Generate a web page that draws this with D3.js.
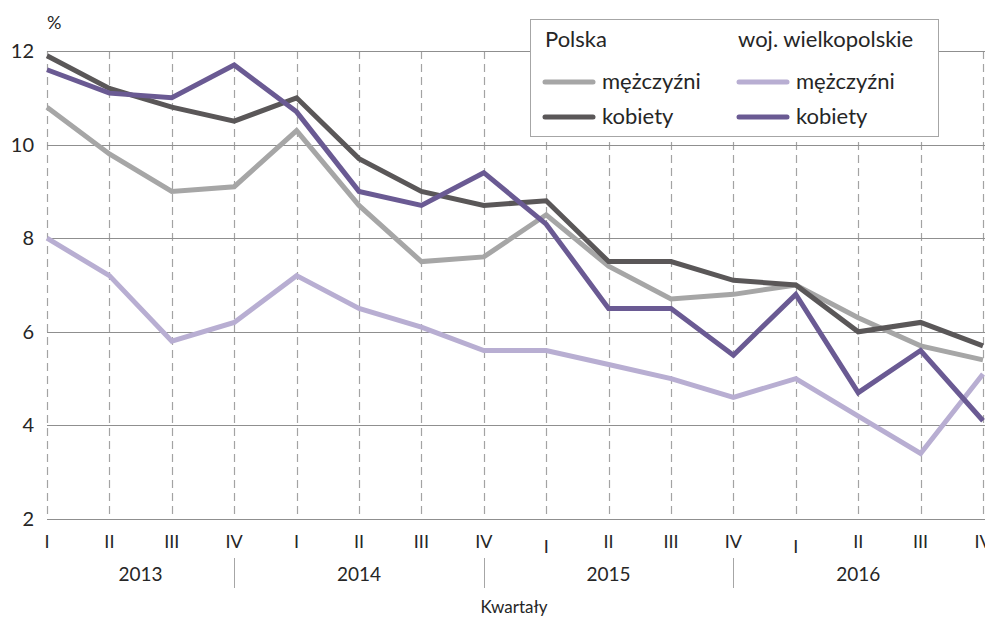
<!DOCTYPE html>
<html>
<head>
<meta charset="utf-8">
<script src="https://cdn.jsdelivr.net/npm/d3@7"></script>
<style>
  body { margin: 0; background: #fff; }
  svg { display: block; font-family: Lato, "Open Sans", sans-serif; }
</style>
</head>
<body>
<div id="chart"></div>
<script>
// quarters 2013 I .. 2016 IV
var QUARTERS = ["I","II","III","IV","I","II","III","IV","I","II","III","IV","I","II","III","IV"];
var YEARS = ["2013", "2014", "2015", "2016"];
var Y_TICKS = [2, 4, 6, 8, 10, 12];

var PL_M = [10.8, 9.8, 9.0, 9.1, 10.3, 8.7, 7.5, 7.6, 8.5, 7.4, 6.7, 6.8, 7.0, 6.3, 5.7, 5.4];
var PL_K = [11.9, 11.2, 10.8, 10.5, 11.0, 9.7, 9.0, 8.7, 8.8, 7.5, 7.5, 7.1, 7.0, 6.0, 6.2, 5.7];
var WLKP_M = [8.0, 7.2, 5.8, 6.2, 7.2, 6.5, 6.1, 5.6, 5.6, 5.3, 5.0, 4.6, 5.0, 4.2, 3.4, 5.1];
var WLKP_K = [11.6, 11.1, 11.0, 11.7, 10.7, 9.0, 8.7, 9.4, 8.3, 6.5, 6.5, 5.5, 6.8, 4.7, 5.6, 4.1];

var series = [
  {name: "mężczyźni", values: PL_M, color: "#a6a6a6"},
  {name: "kobiety", values: PL_K, color: "#5a5758"},
  {name: "mężczyźni", values: WLKP_M, color: "#b8aed2"},
  {name: "kobiety", values: WLKP_K, color: "#6a5a93"}
];

var W = 985, H = 617;
var margin = {left: 47, right: 983, top: 51, bottom: 519};

var svg = d3.select("#chart").append("svg")
    .attr("width", W).attr("height", H);

var x = d3.scaleLinear().domain([0, QUARTERS.length - 1]).range([margin.left, margin.right]);
var y = d3.scaleLinear().domain([2, 12]).range([margin.bottom, margin.top]);

// vertical dashed lines
svg.append("g").selectAll("line")
  .data(QUARTERS)
  .enter().append("line")
  .attr("x1", function(d, i) { return Math.round(x(i)) + 0.5; })
  .attr("x2", function(d, i) { return Math.round(x(i)) + 0.5; })
  .attr("y1", margin.top).attr("y2", margin.bottom)
  .attr("stroke", "#a3a3a3")
  .attr("stroke-width", 1.2)
  .attr("stroke-dasharray", "8,5");

// horizontal grid
svg.append("g").selectAll("line")
  .data(Y_TICKS)
  .enter().append("line")
  .attr("x1", margin.left).attr("x2", W)
  .attr("y1", function(d) { return Math.round(y(d)) + 0.5; })
  .attr("y2", function(d) { return Math.round(y(d)) + 0.5; })
  .attr("stroke", "#8f8f8f")
  .attr("stroke-width", 1.2);

// y labels
svg.append("g").selectAll("text")
  .data(Y_TICKS)
  .enter().append("text")
  .attr("x", 34)
  .attr("y", function(d) { return y(d) + 7; })
  .attr("text-anchor", "end")
  .style("font-size", "20px")
  .style("fill", "#262626")
  .text(function(d) { return d; });

svg.append("text").attr("x", 47).attr("y", 29)
  .style("font-size", "18px").style("fill", "#262626").text("%");

// quarter labels
svg.append("g").selectAll("text")
  .data(QUARTERS)
  .enter().append("text")
  .attr("x", function(d, i) { return x(i); })
  .attr("y", function(d, i) { return (i == 8 || i == 12) ? 553 : 548; })
  .attr("text-anchor", "middle")
  .style("font-size", "18px")
  .style("fill", "#262626")
  .text(function(d) { return d; });

// year separators and labels
var seps = [3, 7, 11];
svg.append("g").selectAll("line")
  .data(seps)
  .enter().append("line")
  .attr("x1", function(d) { return Math.round(x(d)) + 0.5; })
  .attr("x2", function(d) { return Math.round(x(d)) + 0.5; })
  .attr("y1", 558).attr("y2", 588)
  .attr("stroke", "#a6a6a6").attr("stroke-width", 1);

var bounds = [0, 3, 7, 11, 15];
svg.append("g").selectAll("text")
  .data(YEARS)
  .enter().append("text")
  .attr("x", function(d, i) { return (x(bounds[i]) + x(bounds[i + 1])) / 2; })
  .attr("y", 581)
  .attr("text-anchor", "middle")
  .style("font-size", "19px")
  .style("fill", "#262626")
  .text(function(d) { return d; });

svg.append("text").attr("x", 514).attr("y", 613)
  .attr("text-anchor", "middle")
  .style("font-size", "17px").style("fill", "#262626").text("Kwartały");

// lines
var line = d3.line()
  .x(function(d, i) { return x(i); })
  .y(function(d) { return y(d); });

svg.append("g").selectAll("path")
  .data(series)
  .enter().append("path")
  .attr("d", function(d) { return line(d.values); })
  .attr("fill", "none")
  .attr("stroke", function(d) { return d.color; })
  .attr("stroke-width", 5)
  .attr("stroke-linejoin", "miter");

// legend
var lg = svg.append("g");
lg.append("rect").attr("x", 530.5).attr("y", 19.5).attr("width", 408).attr("height", 117)
  .attr("fill", "#fff").attr("stroke", "#a6a6a6").attr("stroke-width", 1);
lg.append("text").attr("x", 545).attr("y", 47).style("font-size", "22px").style("fill", "#262626").text("Polska");
lg.append("text").attr("x", 738).attr("y", 47).style("font-size", "22px").style("fill", "#262626").text("woj. wielkopolskie");

var legPos = [[545, 82], [545, 117], [739, 82], [739, 117]];
series.forEach(function(s, i) {
  var p = legPos[i];
  lg.append("line").attr("x1", p[0]).attr("x2", p[0] + 48).attr("y1", p[1]).attr("y2", p[1])
    .attr("stroke", s.color).attr("stroke-width", 5).attr("stroke-linecap", "round");
  lg.append("text").attr("x", p[0] + 57).attr("y", p[1] + 7)
    .style("font-size", "22px").style("fill", "#262626").text(s.name);
});
</script>
</body>
</html>
